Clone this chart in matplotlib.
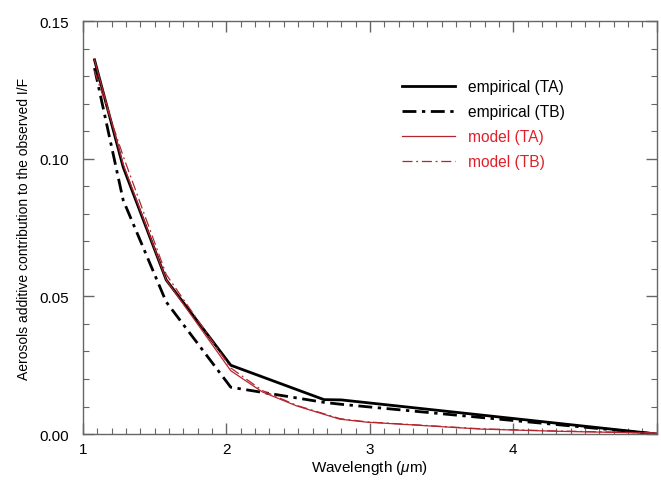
import matplotlib
matplotlib.use('Agg')
import matplotlib.pyplot as plt
from matplotlib.ticker import MultipleLocator

plt.rcParams['font.family'] = ['Liberation Sans', 'DejaVu Sans']
plt.rcParams['mathtext.fontset'] = 'custom'
plt.rcParams['mathtext.it'] = 'Liberation Sans:italic'

# Empirical curves
wl_emp = [1.08, 1.28, 1.58, 2.03, 2.68, 2.80, 5.00]
emp_ta = [0.136, 0.097, 0.056, 0.025, 0.0125, 0.0124, 0.0]
emp_tb = [0.133, 0.085, 0.048, 0.017, 0.0115, 0.0108, 0.0]

# Model curves
wl_mod = [1.08, 1.28, 1.58, 2.03, 2.25, 2.49, 2.79, 2.98, 3.30, 3.77, 4.30, 5.00]
mod_ta = [0.136, 0.098, 0.056, 0.023, 0.0153, 0.0102, 0.0054, 0.0043, 0.0033, 0.0018, 0.0010, 0.0003]
mod_tb = [0.132, 0.101, 0.058, 0.024, 0.0158, 0.0104, 0.0056, 0.0044, 0.0034, 0.0019, 0.0011, 0.0004]

red_line = '#b5252f'
red_text = '#e0202a'
spine_col = '#666666'

fig = plt.figure(figsize=(6.61, 4.81), dpi=100)
ax = fig.add_axes([0.1256, 0.0956, 0.868, 0.858])

ax.plot(wl_emp, emp_ta, color='black', lw=2.0, label='empirical (TA)')
ax.plot(wl_emp, emp_tb, color='black', lw=2.0, ls=(0, (5, 2, 1.2, 2)), label='empirical (TB)')
ax.plot(wl_mod, mod_ta, color=red_line, lw=0.9, label='model (TA)')
ax.plot(wl_mod, mod_tb, color=red_line, lw=0.9, ls=(0, (8, 3, 1.5, 3)), label='model (TB)')

ax.set_xlim(1, 5)
ax.set_ylim(0, 0.15)
ax.xaxis.set_major_locator(MultipleLocator(1))
ax.xaxis.set_minor_locator(MultipleLocator(0.1))
ax.yaxis.set_major_locator(MultipleLocator(0.05))
ax.yaxis.set_minor_locator(MultipleLocator(0.01))
ax.set_xticks([1, 2, 3, 4, 5])
ax.set_xticklabels(['1', '2', '3', '4', ''])
ax.yaxis.set_major_formatter(plt.FuncFormatter(lambda v, p: '%.2f' % v))

ax.tick_params(which='both', direction='in', top=True, right=True, colors=spine_col,
               labelcolor='black', labelsize=11)
ax.tick_params(which='major', length=8, width=1)
ax.tick_params(which='minor', length=4.5, width=0.8)
ax.tick_params(axis='y', pad=10)
ax.tick_params(axis='x', pad=6)
for s in ax.spines.values():
    s.set_color(spine_col)
    s.set_linewidth(1)

ax.set_xlabel(r'Wavelength ($\mathit{\mu}$m)', fontsize=11, labelpad=1)
ax.set_ylabel('Aerosols additive contribution to the observed I/F', fontsize=10, labelpad=6)

leg = ax.legend(loc='upper left', bbox_to_anchor=(0.532, 0.893), frameon=False, fontsize=11.2,
                handlelength=3.4, handletextpad=0.8, labelspacing=0.64)
for t, c in zip(leg.get_texts(), ['black', 'black', red_text, red_text]):
    t.set_color(c)

fig.savefig('out.png', dpi=100)
